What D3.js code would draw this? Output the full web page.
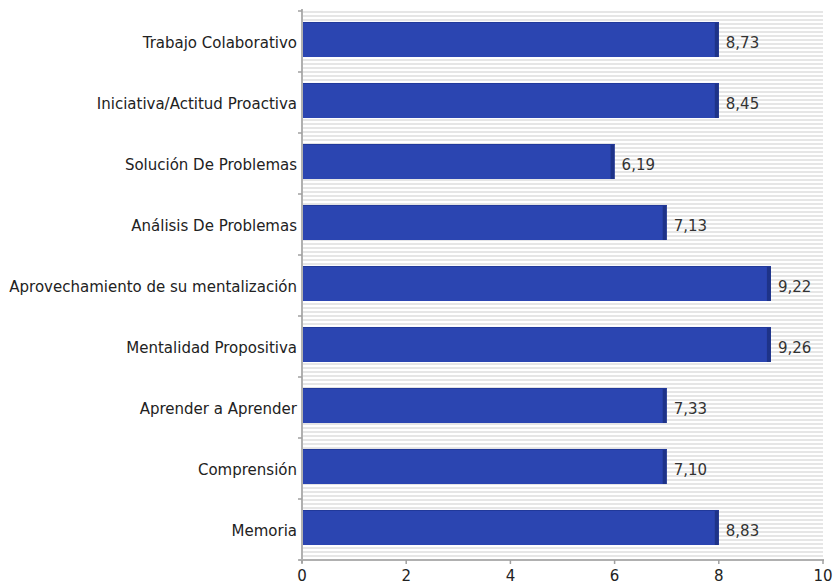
<!DOCTYPE html>
<html><head><meta charset="utf-8">
<script src="https://cdn.jsdelivr.net/npm/d3@7"></script>
<style>body{margin:0;background:#fff}svg text{font-family:"DejaVu Sans",sans-serif}</style>
</head><body><svg id="c" width="837" height="588"></svg>
<script>
const categories = ["Trabajo Colaborativo","Iniciativa/Actitud Proactiva","Solución De Problemas","Análisis De Problemas","Aprovechamiento de su mentalización","Mentalidad Propositiva","Aprender a Aprender","Comprensión","Memoria"];
const barValues = [8, 8, 6, 7, 9, 9, 7, 7, 8];
const valueLabels = ["8,73","8,45","6,19","7,13","9,22","9,26","7,33","7,10","8,83"];
const xTicks = [0, 2, 4, 6, 8, 10];

const svg = d3.select("#c");
const m = {l: 302, r: 823, t: 11, b: 560};
const x = d3.scaleLinear().domain([0, 10]).range([m.l, m.r]);
const y = d3.scaleBand().domain(categories).range([m.t - 2, m.b - 2]).paddingInner(0.426).paddingOuter(0.213);

const defs = svg.append("defs");
const pat = defs.append("pattern").attr("id","stripes").attr("patternUnits","userSpaceOnUse")
  .attr("width", 8).attr("height", 4).attr("y", m.t);
pat.append("rect").attr("width",8).attr("height",4).attr("fill","#ffffff");
pat.append("rect").attr("width",8).attr("height",2).attr("fill","#e6e6e6");

svg.append("rect").attr("x", m.l).attr("y", m.t).attr("width", m.r - m.l).attr("height", m.b - m.t).attr("fill","url(#stripes)");

const g = svg.append("g");
categories.forEach((c, i) => {
  const y0 = y(c), h = y.bandwidth(), x1 = x(barValues[i]);
  g.append("rect").attr("x", x(0)).attr("y", y0).attr("width", x1 - x(0)).attr("height", h).attr("fill", "#2b45b1");
  g.append("rect").attr("x", x1 - 4).attr("y", y0).attr("width", 4).attr("height", h).attr("fill", "#1e3388");
  g.append("line").attr("x1", x(0)).attr("x2", x1).attr("y1", y0 + 0.5).attr("y2", y0 + 0.5).attr("stroke", "#22399a").attr("stroke-width", 1);
  g.append("text").attr("x", x1 + 7).attr("y", y0 + h / 2 + 3).attr("dy", "0.35em")
    .attr("font-size", 15).attr("fill", "#333").text(valueLabels[i]);
});

// y axis
const yAxis = svg.append("g");
yAxis.append("line").attr("x1", m.l).attr("x2", m.l).attr("y1", m.t - 2).attr("y2", m.b + 3).attr("stroke", "#b0b0b0").attr("stroke-width", 2);
d3.range(categories.length + 1).forEach(k => {
  const yy = m.t + k * (m.b - m.t) / categories.length;
  yAxis.append("line").attr("x1", m.l - 4).attr("x2", m.l).attr("y1", yy).attr("y2", yy).attr("stroke", "#a0a0a0").attr("stroke-width", 1.5);
});
categories.forEach(c => {
  yAxis.append("text").attr("x", m.l - 5).attr("y", y(c) + y.bandwidth() / 2 + 3).attr("dy", "0.35em")
    .attr("text-anchor", "end").attr("font-size", 15).attr("fill", "#222").text(c);
});

// x axis
const xAxis = svg.append("g");
xAxis.append("line").attr("x1", m.l - 3).attr("x2", m.r + 1).attr("y1", m.b).attr("y2", m.b).attr("stroke", "#b0b0b0").attr("stroke-width", 2);
xTicks.forEach(t => {
  xAxis.append("line").attr("x1", x(t)).attr("x2", x(t)).attr("y1", m.b).attr("y2", m.b + 4).attr("stroke", "#a0a0a0").attr("stroke-width", 1.5);
  xAxis.append("text").attr("x", x(t)).attr("y", m.b + 16).attr("dy", "0.35em").attr("text-anchor", "middle")
    .attr("font-size", 15).attr("fill", "#222").text(t);
});
</script></body></html>
